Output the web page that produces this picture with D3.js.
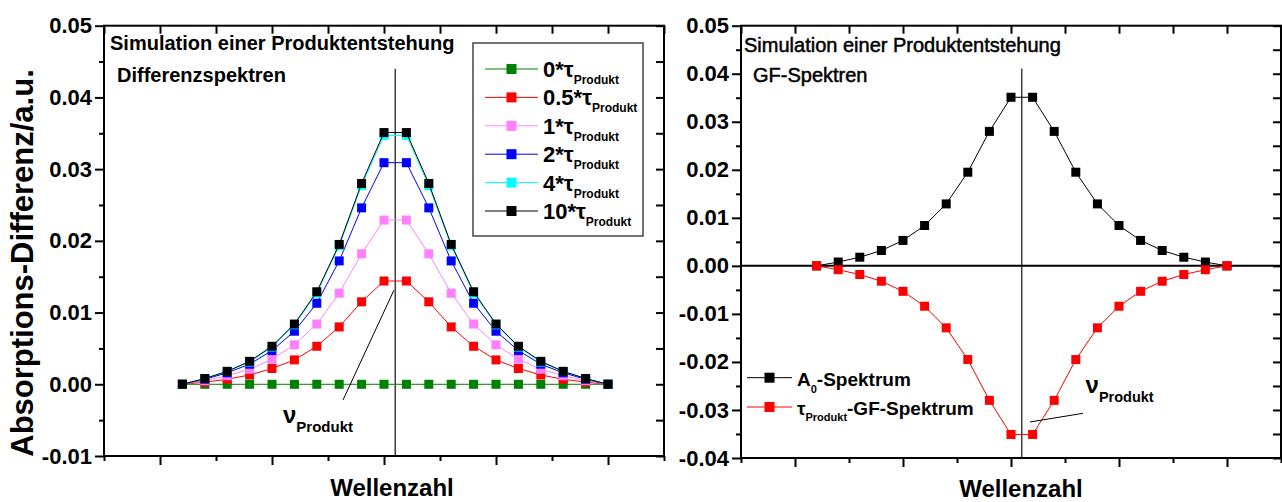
<!DOCTYPE html>
<html>
<head>
<meta charset="utf-8">
<script src="https://cdn.jsdelivr.net/npm/d3@7/dist/d3.min.js"></script>
<style>
  html, body { margin: 0; padding: 0; background: #fff; }
  svg { display: block; font-family: "Liberation Sans", Arial, sans-serif; }
</style>
</head>
<body>
<svg id="chart" width="1282" height="502"></svg>
<script>
// Wavenumber grid (arbitrary units) and the product band centre
const wavenumber = [10, 20, 30, 40, 50, 60, 70, 80, 90, 100, 110, 120, 130, 140, 150, 160, 170, 180, 190, 200];
const nuProdukt = 105;

// Difference spectra after n * tau_Produkt
const diffFactors = ["0", "0.5", "1", "2", "4", "10"];
const diff0   = [0, 0, 0, 0, 0, 0, 0, 0, 0, 0, 0, 0, 0, 0, 0, 0, 0, 0, 0, 0];
const diff05  = [0, 0.0003, 0.0007, 0.0013, 0.0022, 0.0034, 0.0053, 0.0080, 0.0115, 0.0144, 0.0144, 0.0115, 0.0080, 0.0053, 0.0034, 0.0022, 0.0013, 0.0007, 0.0003, 0];
const diff1   = [0, 0.0005, 0.0012, 0.0021, 0.0035, 0.0055, 0.0084, 0.0127, 0.0182, 0.0229, 0.0229, 0.0182, 0.0127, 0.0084, 0.0055, 0.0035, 0.0021, 0.0012, 0.0005, 0];
const diff2   = [0, 0.0007, 0.0016, 0.0028, 0.0047, 0.0074, 0.0113, 0.0172, 0.0246, 0.0309, 0.0309, 0.0246, 0.0172, 0.0113, 0.0074, 0.0047, 0.0028, 0.0016, 0.0007, 0];
const diff4   = [0, 0.0008, 0.0018, 0.0031, 0.0052, 0.0083, 0.0127, 0.0193, 0.0277, 0.0347, 0.0347, 0.0277, 0.0193, 0.0127, 0.0083, 0.0052, 0.0031, 0.0018, 0.0008, 0];
const diff10  = [0, 0.0008, 0.0018, 0.0032, 0.0053, 0.0084, 0.0129, 0.0195, 0.0280, 0.0351, 0.0351, 0.0280, 0.0195, 0.0129, 0.0084, 0.0053, 0.0032, 0.0018, 0.0008, 0];
const diffColors = ["#008000", "#ff0000", "#ff80ff", "#0000ff", "#00ffff", "#000000"];

// Global-fit spectra
const a0Spectrum = [0, 0.0008, 0.0018, 0.0032, 0.0053, 0.0084, 0.0129, 0.0195, 0.0280, 0.0351, 0.0351, 0.0280, 0.0195, 0.0129, 0.0084, 0.0053, 0.0032, 0.0018, 0.0008, 0];
const gfSpectrum = [0, -0.0008, -0.0018, -0.0032, -0.0053, -0.0084, -0.0129, -0.0195, -0.0280, -0.0351, -0.0351, -0.0280, -0.0195, -0.0129, -0.0084, -0.0053, -0.0032, -0.0018, -0.0008, 0];

// Axis ticks
const xMajorTicks = [0, 50, 100, 150, 200];
const xMinorTicks = [-25, 25, 75, 125, 175, 225];
const yTicksLeft  = [-0.01, 0, 0.01, 0.02, 0.03, 0.04, 0.05];
const yLabelsLeft = ["-0.01", "0.00", "0.01", "0.02", "0.03", "0.04", "0.05"];
const yTicksRight  = [-0.04, -0.03, -0.02, -0.01, 0, 0.01, 0.02, 0.03, 0.04, 0.05];
const yLabelsRight = ["-0.04", "-0.03", "-0.02", "-0.01", "0.00", "0.01", "0.02", "0.03", "0.04", "0.05"];

const svg = d3.select("#chart");

function minorsOf(ticks) {
  const out = [];
  for (let i = 0; i < ticks.length - 1; i++) out.push(+((ticks[i] + ticks[i + 1]) / 2).toFixed(4));
  return out;
}

function drawFrame(g, x, y, yTicks, yLabels) {
  const [x0, x1] = x.range();
  const [y1, y0] = y.range();
  const yMinor = minorsOf(yTicks);
  const style = sel => {
    sel.select(".domain").remove();
    sel.selectAll("line").attr("stroke", "#000").attr("stroke-width", 2);
    sel.selectAll("text").attr("font-size", 22).attr("font-weight", "bold").attr("fill", "#000");
  };
  // left
  g.append("g").attr("transform", `translate(${x0},0)`)
    .call(d3.axisLeft(y).tickValues(yTicks).tickSize(9).tickPadding(3)
      .tickFormat((d, i) => yLabels[i])).call(style);
  g.append("g").attr("transform", `translate(${x0},0)`)
    .call(d3.axisLeft(y).tickValues(yMinor).tickSize(5).tickFormat("")).call(style);
  // right (inward)
  g.append("g").attr("transform", `translate(${x1},0)`)
    .call(d3.axisRight(y).tickValues(yTicks.concat(yMinor)).tickSize(-8).tickFormat("")).call(style);
  // bottom
  g.append("g").attr("transform", `translate(0,${y1})`)
    .call(d3.axisBottom(x).tickValues(xMajorTicks).tickSize(9).tickFormat("")).call(style);
  g.append("g").attr("transform", `translate(0,${y1})`)
    .call(d3.axisBottom(x).tickValues(xMinorTicks).tickSize(5).tickFormat("")).call(style);
  // top (inward)
  g.append("g").attr("transform", `translate(0,${y0})`)
    .call(d3.axisTop(x).tickValues(xMajorTicks.concat(xMinorTicks)).tickSize(-8).tickFormat("")).call(style);
  g.append("rect").attr("x", x0).attr("y", y0).attr("width", x1 - x0).attr("height", y1 - y0)
    .attr("fill", "none").attr("stroke", "#000").attr("stroke-width", 2);
}

function drawSeries(g, x, y, values, color) {
  const pts = wavenumber.map((w, i) => [w, values[i]]);
  g.append("path").datum(pts)
    .attr("fill", "none").attr("stroke", color).attr("stroke-width", 1)
    .attr("d", d3.line().x(d => x(d[0])).y(d => y(d[1])));
  g.selectAll(null).data(pts).enter().append("rect")
    .attr("x", d => x(d[0]) - 4.5).attr("y", d => y(d[1]) - 4.5)
    .attr("width", 9).attr("height", 9)
    .attr("fill", color);
}

function legendMark(g, x1, x2, yc, color) {
  g.append("line").attr("x1", x1).attr("x2", x2).attr("y1", yc).attr("y2", yc)
    .attr("stroke", color).attr("stroke-width", 1);
  g.append("rect").attr("x", (x1 + x2) / 2 - 5).attr("y", yc - 5)
    .attr("width", 10).attr("height", 10).attr("fill", color);
}

// ---------- Left panel: difference spectra ----------
{
  const g = svg.append("g");
  const x = d3.scaleLinear().domain([-25, 225]).range([104, 664]);
  const y = d3.scaleLinear().domain([-0.01, 0.05]).range([456, 25.7]);

  // band centre marker
  g.append("line").attr("x1", x(nuProdukt)).attr("x2", x(nuProdukt))
    .attr("y1", y(0.044)).attr("y2", y(-0.01))
    .attr("stroke", "#111").attr("stroke-width", 1.2);

  const series = [diff0, diff05, diff1, diff2, diff4, diff10];
  series.forEach((s, i) => drawSeries(g, x, y, s, diffColors[i]));

  drawFrame(g, x, y, yTicksLeft, yLabelsLeft);

  g.append("text").attr("x", 110).attr("y", 50)
    .attr("font-size", 20).attr("font-weight", "bold")
    .text("Simulation einer Produktentstehung");
  g.append("text").attr("x", 117).attr("y", 82)
    .attr("font-size", 20).attr("font-weight", "bold")
    .text("Differenzspektren");

  // legend
  const lg = g.append("g");
  lg.append("rect").attr("x", 473).attr("y", 43).attr("width", 170).attr("height", 193)
    .attr("fill", "#fff").attr("stroke", "#444").attr("stroke-width", 1.5);
  diffFactors.forEach((f, i) => {
    const yc = 69 + i * 28.4;
    legendMark(lg, 485, 538, yc, diffColors[i]);
    const t = lg.append("text").attr("x", 543).attr("y", yc + 8)
      .attr("font-size", 22).attr("font-weight", "bold");
    t.append("tspan").text(f + "*\u03C4");
    t.append("tspan").attr("font-size", 12).attr("dy", 7).text("Produkt");
  });

  // ν annotation
  g.append("line").attr("x1", x(81.7)).attr("y1", y(-0.0022)).attr("x2", x(104.4)).attr("y2", y(0.0131))
    .attr("stroke", "#000").attr("stroke-width", 1);
  const nu = g.append("text").attr("x", x(54.9)).attr("y", y(-0.0054)).attr("font-weight", "bold");
  nu.append("tspan").attr("font-size", 24).text("\u03BD");
  nu.append("tspan").attr("font-size", 15).attr("dy", 9).text("Produkt");

  // axis titles
  svg.append("text").attr("transform", "translate(33,263) rotate(-90)")
    .attr("text-anchor", "middle").attr("font-size", 31).attr("font-weight", "bold")
    .text("Absorptions-Differenz/a.u.");
  svg.append("text").attr("x", 392).attr("y", 496).attr("text-anchor", "middle")
    .attr("font-size", 24).attr("font-weight", "bold").text("Wellenzahl");
}

// ---------- Right panel: global-fit spectra ----------
{
  const g = svg.append("g");
  const x = d3.scaleLinear().domain([-25, 225]).range([741, 1281]);
  const y = d3.scaleLinear().domain([-0.04, 0.05]).range([458, 25.7]);

  g.append("line").attr("x1", x(-25)).attr("x2", x(225)).attr("y1", y(0)).attr("y2", y(0))
    .attr("stroke", "#000").attr("stroke-width", 2);
  g.append("line").attr("x1", x(nuProdukt)).attr("x2", x(nuProdukt))
    .attr("y1", y(0.0411)).attr("y2", y(-0.04))
    .attr("stroke", "#111").attr("stroke-width", 1.2);

  drawSeries(g, x, y, a0Spectrum, "#000000");
  drawSeries(g, x, y, gfSpectrum, "#ff0000");

  drawFrame(g, x, y, yTicksRight, yLabelsRight);

  g.append("text").attr("x", 744).attr("y", 52).attr("font-size", 20)
    .attr("stroke", "#000").attr("stroke-width", 0.5)
    .text("Simulation einer Produktentstehung");
  g.append("text").attr("x", 753).attr("y", 82).attr("font-size", 20)
    .attr("stroke", "#000").attr("stroke-width", 0.5)
    .text("GF-Spektren");

  // legend
  legendMark(g, 747, 792, 377.7, "#000000");
  legendMark(g, 747, 792, 407, "#ff0000");
  const t1 = g.append("text").attr("x", 797).attr("y", 385.5).attr("font-size", 19).attr("font-weight", "bold");
  t1.append("tspan").text("A");
  t1.append("tspan").attr("font-size", 11).attr("dy", 7).text("0");
  t1.append("tspan").attr("dy", -7).text("-Spektrum");
  const t2 = g.append("text").attr("x", 797).attr("y", 415).attr("font-size", 19).attr("font-weight", "bold");
  t2.append("tspan").text("\u03C4");
  t2.append("tspan").attr("font-size", 11).attr("dy", 6).text("Produkt");
  t2.append("tspan").attr("dy", -6).text("-GF-Spektrum");

  // ν annotation
  g.append("line").attr("x1", x(108.8)).attr("y1", y(-0.0325)).attr("x2", x(133.3)).attr("y2", y(-0.0307))
    .attr("stroke", "#000").attr("stroke-width", 1);
  const nu = g.append("text").attr("x", x(134.5)).attr("y", y(-0.0264)).attr("font-weight", "bold");
  nu.append("tspan").attr("font-size", 24).text("\u03BD");
  nu.append("tspan").attr("font-size", 14.5).attr("dy", 9).text("Produkt");

  svg.append("text").attr("x", 1021).attr("y", 497).attr("text-anchor", "middle")
    .attr("font-size", 24).attr("font-weight", "bold").text("Wellenzahl");
}
</script>
</body>
</html>
